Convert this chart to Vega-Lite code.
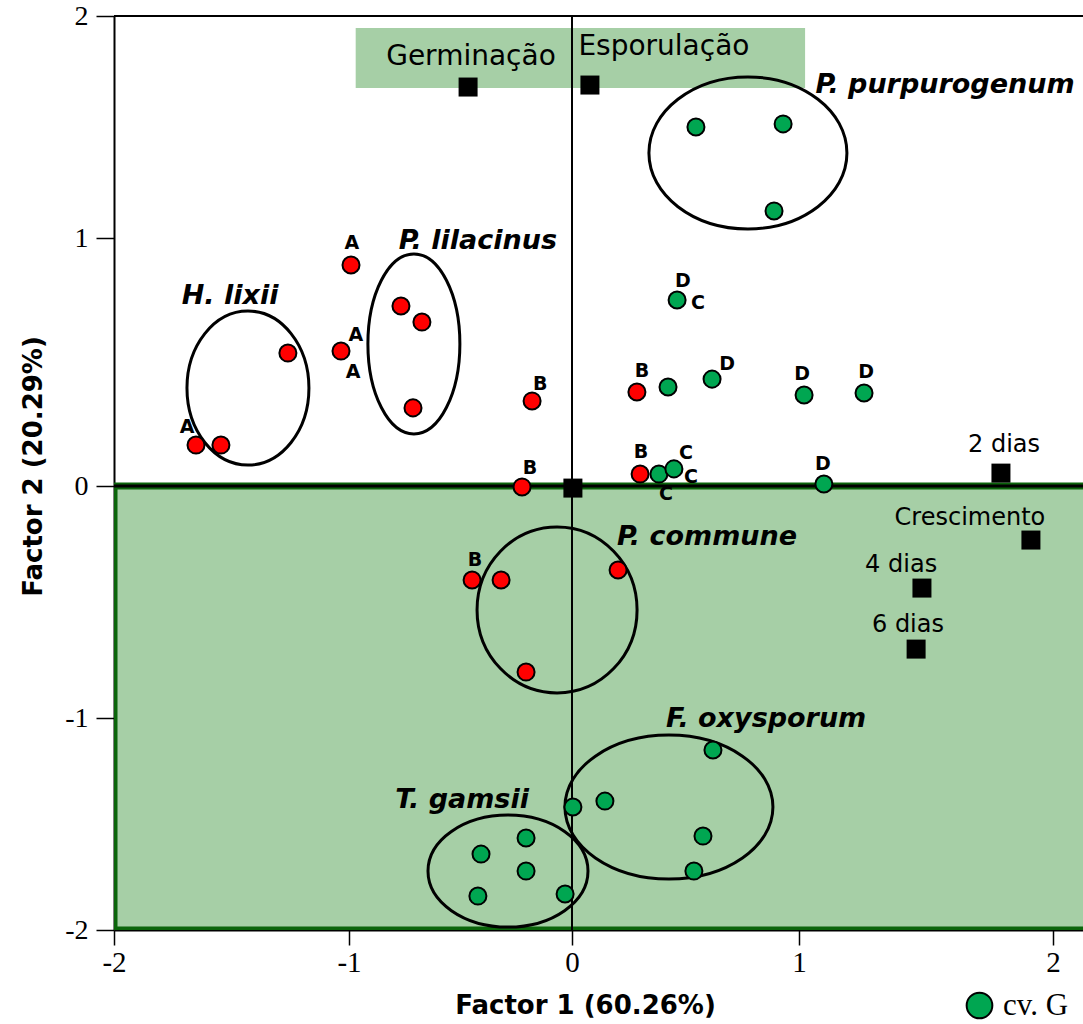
{
  "$schema": "https://vega.github.io/schema/vega-lite/v6.json",
  "autosize": {"type": "none"},
  "padding": {"left": 114, "top": 16, "right": 0, "bottom": 94},
  "width": 969,
  "height": 914,
  "background": "white",
  "config": {
    "view": {"stroke": null},
    "font": "DejaVu Sans",
    "axis": {
      "grid": false,
      "zindex": 1,
      "domainColor": "black",
      "domainWidth": 2,
      "tickColor": "black",
      "tickWidth": 1.5,
      "labelFont": "Liberation Serif",
      "labelFontSize": 29,
      "labelColor": "black",
      "labelFlush": false,
      "labelOverlap": false,
      "titleFont": "DejaVu Sans",
      "titleFontSize": 26,
      "titleFontWeight": "bold",
      "titleColor": "black"
    }
  },
  "datasets": {
    "pontos": [
      {"x": -1.651, "y": 0.165, "cultivar": "outra"},
      {"x": -1.545, "y": 0.165, "cultivar": "outra"},
      {"x": -1.260, "y": 0.536, "cultivar": "outra"},
      {"x": -0.991, "y": 0.891, "cultivar": "outra"},
      {"x": -1.034, "y": 0.544, "cultivar": "outra"},
      {"x": -0.767, "y": 0.726, "cultivar": "outra"},
      {"x": -0.673, "y": 0.661, "cultivar": "outra"},
      {"x": -0.713, "y": 0.315, "cultivar": "outra"},
      {"x": -0.179, "y": 0.343, "cultivar": "outra"},
      {"x": -0.224, "y": -0.004, "cultivar": "outra"},
      {"x": 0.286, "y": 0.379, "cultivar": "outra"},
      {"x": 0.300, "y": 0.048, "cultivar": "outra"},
      {"x": -0.448, "y": -0.405, "cultivar": "outra"},
      {"x": -0.318, "y": -0.405, "cultivar": "outra"},
      {"x": 0.203, "y": -0.362, "cultivar": "outra"},
      {"x": -0.206, "y": -0.802, "cultivar": "outra"},
      {"x": 0.546, "y": 1.500, "cultivar": "cv. G"},
      {"x": 0.930, "y": 1.514, "cultivar": "cv. G"},
      {"x": 0.890, "y": 1.122, "cultivar": "cv. G"},
      {"x": 0.463, "y": 0.750, "cultivar": "cv. G"},
      {"x": 0.423, "y": 0.399, "cultivar": "cv. G"},
      {"x": 0.617, "y": 0.431, "cultivar": "cv. G"},
      {"x": 1.020, "y": 0.367, "cultivar": "cv. G"},
      {"x": 1.256, "y": 0.375, "cultivar": "cv. G"},
      {"x": 0.383, "y": 0.048, "cultivar": "cv. G"},
      {"x": 0.449, "y": 0.069, "cultivar": "cv. G"},
      {"x": 1.098, "y": 0.008, "cultivar": "cv. G"},
      {"x": 0.621, "y": -1.151, "cultivar": "cv. G"},
      {"x": 0.004, "y": -1.420, "cultivar": "cv. G"},
      {"x": 0.145, "y": -1.392, "cultivar": "cv. G"},
      {"x": 0.577, "y": -1.557, "cultivar": "cv. G"},
      {"x": 0.537, "y": -1.722, "cultivar": "cv. G"},
      {"x": -0.206, "y": -1.566, "cultivar": "cv. G"},
      {"x": -0.408, "y": -1.642, "cultivar": "cv. G"},
      {"x": -0.206, "y": -1.722, "cultivar": "cv. G"},
      {"x": -0.422, "y": -1.840, "cultivar": "cv. G"},
      {"x": -0.031, "y": -1.830, "cultivar": "cv. G"}
    ],
    "letras": [
      {"letra": "A", "x": -1.689, "y": 0.238},
      {"letra": "A", "x": -0.987, "y": 0.980},
      {"letra": "A", "x": -0.969, "y": 0.609},
      {"letra": "A", "x": -0.982, "y": 0.460},
      {"letra": "B", "x": -0.143, "y": 0.411},
      {"letra": "B", "x": -0.188, "y": 0.073},
      {"letra": "B", "x": 0.308, "y": 0.464},
      {"letra": "B", "x": 0.304, "y": 0.137},
      {"letra": "B", "x": -0.435, "y": -0.319},
      {"letra": "D", "x": 0.489, "y": 0.827},
      {"letra": "C", "x": 0.555, "y": 0.738},
      {"letra": "D", "x": 0.683, "y": 0.492},
      {"letra": "D", "x": 1.012, "y": 0.452},
      {"letra": "D", "x": 1.264, "y": 0.460},
      {"letra": "C", "x": 0.502, "y": 0.133},
      {"letra": "C", "x": 0.524, "y": 0.036},
      {"letra": "C", "x": 0.414, "y": -0.034},
      {"letra": "D", "x": 1.094, "y": 0.089}
    ],
    "variaveis": [
      {"nome": "Germinação", "x": -0.466, "y": 1.680, "rx": -0.453, "ry": 1.815},
      {"nome": "Esporulação", "x": 0.079, "y": 1.689, "rx": 0.405, "ry": 1.860},
      {"nome": "2 dias", "x": 1.795, "y": 0.052, "rx": 1.807, "ry": 0.165},
      {"nome": "Crescimento", "x": 1.913, "y": -0.233, "rx": 1.673, "ry": -0.138},
      {"nome": "4 dias", "x": 1.484, "y": -0.440, "rx": 1.402, "ry": -0.341},
      {"nome": "6 dias", "x": 1.461, "y": -0.703, "rx": 1.429, "ry": -0.599},
      {"nome": "origem", "x": 0.004, "y": -0.009}
    ],
    "grupos": [
      {"especie": "H. lixii", "cx": -1.430, "cy": 0.395, "lx": -1.506, "ly": 0.766},
      {"especie": "P. lilacinus", "cx": -0.709, "cy": 0.573, "lx": -0.422, "ly": 0.988},
      {"especie": "P. purpurogenum", "cx": 0.775, "cy": 1.383, "lx": 1.575, "ly": 1.689},
      {"especie": "P. commune", "cx": -0.067, "cy": -0.534, "lx": 0.595, "ly": -0.220},
      {"especie": "F. oxysporum", "cx": 0.427, "cy": -1.420, "lx": 0.855, "ly": -1.005},
      {"especie": "T. gamsii", "cx": -0.287, "cy": -1.722, "lx": -0.493, "ly": -1.387}
    ]
  },
  "layer": [
    {
      "data": {"values": [{"x0": -2, "x1": 2.3, "y0": 0, "y1": -2}]},
      "mark": {"type": "rect", "fill": "#a6cfa6", "stroke": "#0b650b", "strokeWidth": 7, "clip": true},
      "encoding": {
        "x": {"field": "x0", "type": "quantitative",
              "scale": {"domain": [-2, -1, 0, 1, 2.118], "range": [0, 235, 458, 685, 969], "nice": false, "zero": false},
              "axis": {"values": [-2, -1, 0, 1, 2], "labelExpr": "'' + datum.value", "tickSize": 15, "labelPadding": 3,
                       "titleX": 471, "titleY": 75, "titleBaseline": "middle", "titleAlign": "center"},
              "title": "Factor 1 (60.26%)"},
        "x2": {"field": "x1"},
        "y": {"field": "y0", "type": "quantitative",
              "scale": {"domain": [-2, -1, 0, 1, 2], "range": [914, 702, 470, 222, 0], "nice": false, "zero": false},
              "axis": {"values": [-2, -1, 0, 1, 2], "labelExpr": "'' + datum.value", "tickSize": 18, "labelPadding": 8,
                       "labelFontSize": 28,
                       "titleX": -81, "titleY": 450, "titleBaseline": "middle", "titleAlign": "center", "titleAngle": -90},
              "title": "Factor 2 (20.29%)"},
        "y2": {"field": "y1"}
      }
    },
    {
      "data": {"values": [{"x0": -0.970, "x1": 1.024, "y0": 1.946, "y1": 1.676}]},
      "mark": {"type": "rect", "fill": "#a6cfa6"},
      "encoding": {
        "x": {"field": "x0", "type": "quantitative", "scale": {"domain": [-2, -1, 0, 1, 2.118], "range": [0, 235, 458, 685, 969], "nice": false, "zero": false}},
        "x2": {"field": "x1"},
        "y": {"field": "y0", "type": "quantitative", "scale": {"domain": [-2, -1, 0, 1, 2], "range": [914, 702, 470, 222, 0], "nice": false, "zero": false}},
        "y2": {"field": "y1"}
      }
    },
    {
      "data": {"values": [{"v": 0}]},
      "mark": {"type": "rule", "color": "black", "strokeWidth": 2},
      "encoding": {
        "x": {"field": "v", "type": "quantitative", "scale": {"domain": [-2, -1, 0, 1, 2.118], "range": [0, 235, 458, 685, 969], "nice": false, "zero": false}}
      }
    },
    {
      "data": {"values": [{"v": 0, "w": 3}, {"v": 2, "w": 2}]},
      "mark": {"type": "rule", "color": "black"},
      "encoding": {
        "y": {"field": "v", "type": "quantitative", "scale": {"domain": [-2, -1, 0, 1, 2], "range": [914, 702, 470, 222, 0], "nice": false, "zero": false}},
        "strokeWidth": {"field": "w", "type": "quantitative", "scale": null}
      }
    },
    {
      "data": {"name": "grupos"},
      "transform": [{"filter": "datum.especie === 'H. lixii'"}],
      "mark": {"type": "point", "shape": "M -0.792 0 A 0.792 1 0 1 0 0.792 0 A 0.792 1 0 1 0 -0.792 0 Z", "size": 23716, "filled": false, "stroke": "black", "strokeWidth": 3, "opacity": 1},
      "encoding": {
        "x": {"field": "cx", "type": "quantitative", "scale": {"domain": [-2, -1, 0, 1, 2.118], "range": [0, 235, 458, 685, 969], "nice": false, "zero": false}},
        "y": {"field": "cy", "type": "quantitative", "scale": {"domain": [-2, -1, 0, 1, 2], "range": [914, 702, 470, 222, 0], "nice": false, "zero": false}}
      }
    },
    {
      "data": {"name": "grupos"},
      "transform": [{"filter": "datum.especie === 'P. lilacinus'"}],
      "mark": {"type": "point", "shape": "M -0.511 0 A 0.511 1 0 1 0 0.511 0 A 0.511 1 0 1 0 -0.511 0 Z", "size": 32400, "filled": false, "stroke": "black", "strokeWidth": 3, "opacity": 1},
      "encoding": {
        "x": {"field": "cx", "type": "quantitative", "scale": {"domain": [-2, -1, 0, 1, 2.118], "range": [0, 235, 458, 685, 969], "nice": false, "zero": false}},
        "y": {"field": "cy", "type": "quantitative", "scale": {"domain": [-2, -1, 0, 1, 2], "range": [914, 702, 470, 222, 0], "nice": false, "zero": false}}
      }
    },
    {
      "data": {"name": "grupos"},
      "transform": [{"filter": "datum.especie === 'P. purpurogenum'"}],
      "mark": {"type": "point", "shape": "M -1 0 A 1 0.768 0 1 0 1 0 A 1 0.768 0 1 0 -1 0 Z", "size": 39204, "filled": false, "stroke": "black", "strokeWidth": 3, "opacity": 1},
      "encoding": {
        "x": {"field": "cx", "type": "quantitative", "scale": {"domain": [-2, -1, 0, 1, 2.118], "range": [0, 235, 458, 685, 969], "nice": false, "zero": false}},
        "y": {"field": "cy", "type": "quantitative", "scale": {"domain": [-2, -1, 0, 1, 2], "range": [914, 702, 470, 222, 0], "nice": false, "zero": false}}
      }
    },
    {
      "data": {"name": "grupos"},
      "transform": [{"filter": "datum.especie === 'P. commune'"}],
      "mark": {"type": "point", "shape": "M -0.964 0 A 0.964 1 0 1 0 0.964 0 A 0.964 1 0 1 0 -0.964 0 Z", "size": 27556, "filled": false, "stroke": "black", "strokeWidth": 3, "opacity": 1},
      "encoding": {
        "x": {"field": "cx", "type": "quantitative", "scale": {"domain": [-2, -1, 0, 1, 2.118], "range": [0, 235, 458, 685, 969], "nice": false, "zero": false}},
        "y": {"field": "cy", "type": "quantitative", "scale": {"domain": [-2, -1, 0, 1, 2], "range": [914, 702, 470, 222, 0], "nice": false, "zero": false}}
      }
    },
    {
      "data": {"name": "grupos"},
      "transform": [{"filter": "datum.especie === 'F. oxysporum'"}],
      "mark": {"type": "point", "shape": "M -1 0 A 1 0.692 0 1 0 1 0 A 1 0.692 0 1 0 -1 0 Z", "size": 43264, "filled": false, "stroke": "black", "strokeWidth": 3, "opacity": 1},
      "encoding": {
        "x": {"field": "cx", "type": "quantitative", "scale": {"domain": [-2, -1, 0, 1, 2.118], "range": [0, 235, 458, 685, 969], "nice": false, "zero": false}},
        "y": {"field": "cy", "type": "quantitative", "scale": {"domain": [-2, -1, 0, 1, 2], "range": [914, 702, 470, 222, 0], "nice": false, "zero": false}}
      }
    },
    {
      "data": {"name": "grupos"},
      "transform": [{"filter": "datum.especie === 'T. gamsii'"}],
      "mark": {"type": "point", "shape": "M -1 0 A 1 0.7 0 1 0 1 0 A 1 0.7 0 1 0 -1 0 Z", "size": 25600, "filled": false, "stroke": "black", "strokeWidth": 3, "opacity": 1},
      "encoding": {
        "x": {"field": "cx", "type": "quantitative", "scale": {"domain": [-2, -1, 0, 1, 2.118], "range": [0, 235, 458, 685, 969], "nice": false, "zero": false}},
        "y": {"field": "cy", "type": "quantitative", "scale": {"domain": [-2, -1, 0, 1, 2], "range": [914, 702, 470, 222, 0], "nice": false, "zero": false}}
      }
    },
    {
      "data": {"name": "pontos"},
      "mark": {"type": "point", "shape": "circle", "filled": true, "size": 290, "stroke": "black", "strokeWidth": 2, "opacity": 1},
      "encoding": {
        "x": {"field": "x", "type": "quantitative", "scale": {"domain": [-2, -1, 0, 1, 2.118], "range": [0, 235, 458, 685, 969], "nice": false, "zero": false}},
        "y": {"field": "y", "type": "quantitative", "scale": {"domain": [-2, -1, 0, 1, 2], "range": [914, 702, 470, 222, 0], "nice": false, "zero": false}},
        "color": {
          "field": "cultivar", "type": "nominal",
          "scale": {"domain": ["cv. G", "outra"], "range": ["#00a651", "#ff0000"]},
          "legend": {
            "values": ["cv. G"], "orient": "none", "legendX": 850, "legendY": 974, "title": null, "padding": 0,
            "symbolType": "circle", "symbolSize": 660, "symbolStrokeColor": "black", "symbolStrokeWidth": 2,
            "labelFont": "Liberation Serif", "labelFontSize": 31, "labelColor": "black", "labelOffset": 8
          }
        }
      }
    },
    {
      "data": {"name": "variaveis"},
      "mark": {"type": "square", "size": 361, "color": "black", "opacity": 1},
      "encoding": {
        "x": {"field": "x", "type": "quantitative", "scale": {"domain": [-2, -1, 0, 1, 2.118], "range": [0, 235, 458, 685, 969], "nice": false, "zero": false}},
        "y": {"field": "y", "type": "quantitative", "scale": {"domain": [-2, -1, 0, 1, 2], "range": [914, 702, 470, 222, 0], "nice": false, "zero": false}}
      }
    },
    {
      "data": {"name": "variaveis"},
      "transform": [{"filter": {"field": "rx", "valid": true}}],
      "mark": {"type": "text", "font": "DejaVu Sans", "color": "black", "align": "center", "baseline": "middle"},
      "encoding": {
        "x": {"field": "rx", "type": "quantitative", "scale": {"domain": [-2, -1, 0, 1, 2.118], "range": [0, 235, 458, 685, 969], "nice": false, "zero": false}},
        "y": {"field": "ry", "type": "quantitative", "scale": {"domain": [-2, -1, 0, 1, 2], "range": [914, 702, 470, 222, 0], "nice": false, "zero": false}},
        "text": {"field": "nome"},
        "size": {"condition": {"test": "datum.nome === 'Germinação' || datum.nome === 'Esporulação'", "value": 28}, "value": 24}
      }
    },
    {
      "data": {"name": "letras"},
      "mark": {"type": "text", "font": "DejaVu Sans", "fontWeight": "bold", "fontSize": 19, "color": "black", "align": "center", "baseline": "middle"},
      "encoding": {
        "x": {"field": "x", "type": "quantitative", "scale": {"domain": [-2, -1, 0, 1, 2.118], "range": [0, 235, 458, 685, 969], "nice": false, "zero": false}},
        "y": {"field": "y", "type": "quantitative", "scale": {"domain": [-2, -1, 0, 1, 2], "range": [914, 702, 470, 222, 0], "nice": false, "zero": false}},
        "text": {"field": "letra"}
      }
    },
    {
      "data": {"name": "grupos"},
      "mark": {"type": "text", "font": "DejaVu Sans", "fontWeight": "bold", "fontStyle": "italic", "fontSize": 27, "color": "black", "align": "center", "baseline": "middle"},
      "encoding": {
        "x": {"field": "lx", "type": "quantitative", "scale": {"domain": [-2, -1, 0, 1, 2.118], "range": [0, 235, 458, 685, 969], "nice": false, "zero": false}},
        "y": {"field": "ly", "type": "quantitative", "scale": {"domain": [-2, -1, 0, 1, 2], "range": [914, 702, 470, 222, 0], "nice": false, "zero": false}},
        "text": {"field": "especie"}
      }
    }
  ]
}
